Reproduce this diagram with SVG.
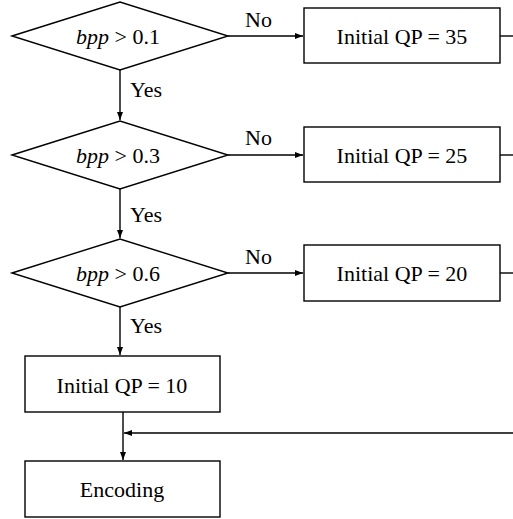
<svg xmlns="http://www.w3.org/2000/svg" width="513" height="519" viewBox="0 0 513 519">
<style>
.shape{fill:#fff;stroke:#000;stroke-width:1.4}
.line{fill:none;stroke:#000;stroke-width:1.4}
text{font-family:"Liberation Serif","Times New Roman",serif;font-size:22px;fill:#000}
.c{text-anchor:middle}
.i{font-style:italic}
</style>
<defs>
<marker id="ah" markerUnits="userSpaceOnUse" markerWidth="9" markerHeight="7" refX="8" refY="3" orient="auto">
<path d="M0,0 L8,3 L0,6 z" fill="#000"/>
</marker>
</defs>
<rect width="513" height="519" fill="#fff"/>
<g id="connectors">
<path class="line" d="M120,70 V120" marker-end="url(#ah)"/>
<path class="line" d="M120,189 V238" marker-end="url(#ah)"/>
<path class="line" d="M120,307 V355" marker-end="url(#ah)"/>
<path class="line" d="M123,412 V460" marker-end="url(#ah)"/>
<path class="line" d="M513,433 H124" marker-end="url(#ah)"/>
<path class="line" d="M228,36 H303" marker-end="url(#ah)"/>
<path class="line" d="M228,155 H303" marker-end="url(#ah)"/>
<path class="line" d="M228,273 H303" marker-end="url(#ah)"/>
<path class="line" d="M500,36 H513"/>
<path class="line" d="M500,155 H513"/>
<path class="line" d="M500,273 H513"/>
<text x="245" y="27">No</text>
<text x="245" y="145">No</text>
<text x="245" y="264">No</text>
<text x="130" y="97">Yes</text>
<text x="130" y="222">Yes</text>
<text x="130" y="333">Yes</text>
</g>
<g id="d1">
<polygon class="shape" points="12,36 120,2 228,36 120,70"/>
<text x="118" y="44" class="c"><tspan class="i">bpp</tspan> &gt; 0.1</text>
</g>
<g id="d2">
<polygon class="shape" points="12,155 120,121 228,155 120,189"/>
<text x="118" y="163" class="c"><tspan class="i">bpp</tspan> &gt; 0.3</text>
</g>
<g id="d3">
<polygon class="shape" points="12,273 120,239 228,273 120,307"/>
<text x="118" y="281" class="c"><tspan class="i">bpp</tspan> &gt; 0.6</text>
</g>
<g id="b35">
<rect class="shape" x="304" y="8" width="196" height="55"/>
<text x="402" y="44" class="c">Initial QP = 35</text>
</g>
<g id="b25">
<rect class="shape" x="304" y="127" width="196" height="55"/>
<text x="402" y="163" class="c">Initial QP = 25</text>
</g>
<g id="b20">
<rect class="shape" x="304" y="245" width="196" height="56"/>
<text x="402" y="281" class="c">Initial QP = 20</text>
</g>
<g id="b10">
<rect class="shape" x="25" y="356" width="195" height="56"/>
<text x="122" y="393" class="c">Initial QP = 10</text>
</g>
<g id="enc">
<rect class="shape" x="25" y="461" width="195" height="56"/>
<text x="122" y="497" class="c">Encoding</text>
</g>
</svg>
